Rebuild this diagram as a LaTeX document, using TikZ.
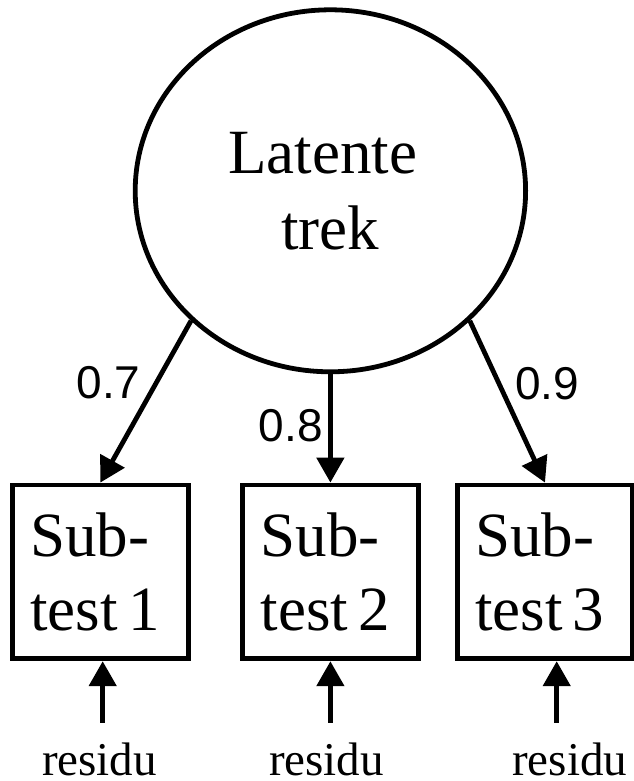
\documentclass[tikz,border=0pt]{standalone}
\usepackage{fontspec}
\setmainfont{Liberation Serif}
\newfontfamily\labelsans{Liberation Sans}
\usetikzlibrary{arrows.meta,shapes.geometric}
\newcommand{\subtestname}[1]{Sub-\\\mbox{test\hspace{0.16em}#1}}
\begin{document}
\begin{tikzpicture}[x=1pt,y=-1pt,
  latent/.style={draw, ellipse, line width=4.8pt, inner sep=0pt,
    minimum width=390.4pt, minimum height=362pt, align=center,
    font=\fontsize{63}{76}\selectfont},
  subtest/.style={draw, rectangle, line width=4.8pt, inner xsep=18pt, inner ysep=0pt,
    text width=139.7pt, minimum height=173.8pt, align=left,
    font=\fontsize{63}{74}\selectfont},
  loading/.style={anchor=base west, inner sep=0pt,
    font=\labelsans\fontsize{46}{55}\selectfont},
  residual/.style={anchor=base, inner sep=0pt, font=\fontsize{47}{56}\selectfont},
  effect/.style={line width=4.8pt, -{Triangle[length=25pt,width=27pt]}}
]
\useasboundingbox (0,0) rectangle (633,781);

% latent factor and its three indicators
\node[latent] (lat) at (330.4,190.8) {Latente\rule{0.25em}{0pt}\\trek};
\node[subtest] (s1) at (100.3,571.9) {\subtestname{1}};
\node[subtest] (s2) at (330.4,571.9) {\subtestname{2}};
\node[subtest] (s3) at (545,571.9) {\subtestname{3}};

% factor loadings
\draw[effect] (lat.223) -- (s1.north);
\draw[effect] (lat.south) -- (s2.north);
\draw[effect] (lat.317) -- (s3.north);
\node[loading] (l1) at (76.3,398.3) {0.7};
\node[loading] (l2) at (258.7,441.7) {0.8};
\node[loading] (l3) at (514.8,399) {0.9};

% residual terms
\coordinate (e1) at (102.7,722.7);
\coordinate (e2) at (330.4,722.7);
\coordinate (e3) at (556.7,722.7);
\draw[effect] (e1) -- (e1 |- s1.south);
\draw[effect] (e2) -- (e2 |- s2.south);
\draw[effect] (e3) -- (e3 |- s3.south);
\node[residual] (r1) at (99.5,775.5) {residu};
\node[residual] (r2) at (326.5,775.5) {residu};
\node[residual] (r3) at (569.7,775.5) {residu};
\end{tikzpicture}
\end{document}
